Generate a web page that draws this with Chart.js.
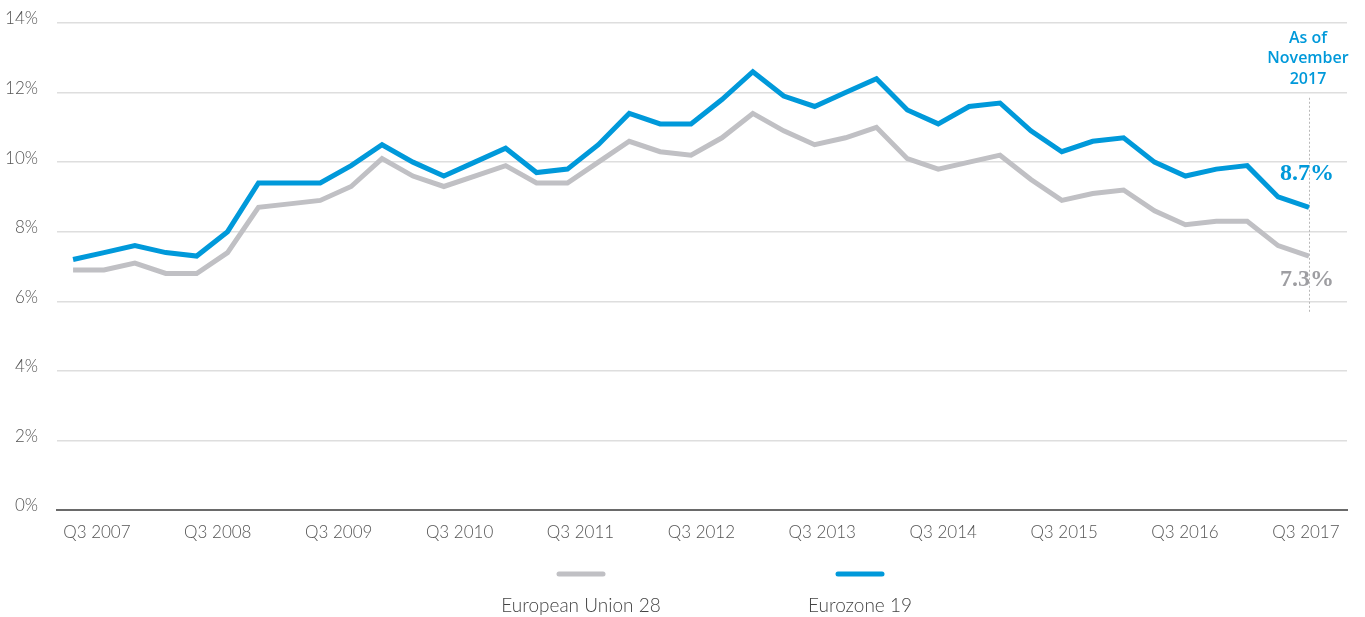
<!DOCTYPE html>
<html>
<head>
<meta charset="utf-8">
<title>Unemployment rate</title>
<script src="https://cdn.jsdelivr.net/npm/chart.js@4.4.0/dist/chart.umd.min.js"></script>
<style>
  html, body { margin: 0; padding: 0; background: #fff; }
  #wrap { position: relative; width: 1365px; height: 617px; }
</style>
</head>
<body>
<div id="wrap"><canvas id="myChart"></canvas></div>
<script>
// quarterly unemployment rate, %
var quarters = [
  'Q3 2007', 'Q4 2007', 'Q1 2008', 'Q2 2008', 'Q3 2008', 'Q4 2008', 'Q1 2009', 'Q2 2009',
  'Q3 2009', 'Q4 2009', 'Q1 2010', 'Q2 2010', 'Q3 2010', 'Q4 2010', 'Q1 2011', 'Q2 2011',
  'Q3 2011', 'Q4 2011', 'Q1 2012', 'Q2 2012', 'Q3 2012', 'Q4 2012', 'Q1 2013', 'Q2 2013',
  'Q3 2013', 'Q4 2013', 'Q1 2014', 'Q2 2014', 'Q3 2014', 'Q4 2014', 'Q1 2015', 'Q2 2015',
  'Q3 2015', 'Q4 2015', 'Q1 2016', 'Q2 2016', 'Q3 2016', 'Q4 2016', 'Q1 2017', 'Q2 2017',
  'Q3 2017'
];
var eu28 = [
  6.9, 6.9, 7.1, 6.8, 6.8, 7.4, 8.7, 8.8, 8.9, 9.3,
  10.1, 9.6, 9.3, 9.6, 9.9, 9.4, 9.4, 10.0, 10.6, 10.3,
  10.2, 10.7, 11.4, 10.9, 10.5, 10.7, 11.0, 10.1, 9.8, 10.0,
  10.2, 9.5, 8.9, 9.1, 9.2, 8.6, 8.2, 8.3, 8.3, 7.6,
  7.3
];
var ez19 = [
  7.2, 7.4, 7.6, 7.4, 7.3, 8.0, 9.4, 9.4, 9.4, 9.9,
  10.5, 10.0, 9.6, 10.0, 10.4, 9.7, 9.8, 10.5, 11.4, 11.1,
  11.1, 11.8, 12.6, 11.9, 11.6, 12.0, 12.4, 11.5, 11.1, 11.6,
  11.7, 10.9, 10.3, 10.6, 10.7, 10.0, 9.6, 9.8, 9.9, 9.0,
  8.7
];
var yearTicks = ['Q3 2007', 'Q3 2008', 'Q3 2009', 'Q3 2010', 'Q3 2011', 'Q3 2012',
                 'Q3 2013', 'Q3 2014', 'Q3 2015', 'Q3 2016', 'Q3 2017'];
var seriesNames = ['European Union 28', 'Eurozone 19'];
var seriesColors = ['#c0c0c4', '#0099da'];
var noteLines = ['As of', 'November', '2017'];

Chart.defaults.font.family = 'Lato, "Open Sans", sans-serif';
Chart.defaults.font.weight = 300;
Chart.defaults.color = '#555';

function points(arr) {
  return arr.map(function (v, i) { return { x: i, y: v }; });
}

// dotted marker behind the last quarter
var marker = {
  id: 'marker',
  beforeDatasetsDraw: function (chart) {
    var ctx = chart.ctx, x = chart.scales.x, y = chart.scales.y;
    var px = Math.round(x.getPixelForValue(quarters.length - 1)) + 0.5;
    ctx.save();
    ctx.strokeStyle = '#b8b8b8';
    ctx.lineWidth = 1;
    ctx.setLineDash([2, 2]);
    ctx.beginPath();
    ctx.moveTo(px, y.getPixelForValue(11.85));
    ctx.lineTo(px, y.getPixelForValue(5.65));
    ctx.stroke();
    ctx.restore();
  }
};

// end values and the date note
var endLabels = {
  id: 'endLabels',
  afterDatasetsDraw: function (chart) {
    var ctx = chart.ctx, x = chart.scales.x, y = chart.scales.y;
    var last = quarters.length - 1;
    var px = x.getPixelForValue(last) - 2;
    ctx.save();
    ctx.textAlign = 'center';
    ctx.textBaseline = 'middle';
    ctx.font = 'bold 24px "Liberation Serif", serif';
    ctx.fillStyle = seriesColors[1];
    ctx.fillText(ez19[last].toFixed(1) + '%', px, y.getPixelForValue(ez19[last]) - 34);
    ctx.fillStyle = '#9e9ea2';
    ctx.fillText(eu28[last].toFixed(1) + '%', px, y.getPixelForValue(eu28[last]) + 24);

    ctx.font = '600 16px "Open Sans", sans-serif';
    ctx.fillStyle = seriesColors[1];
    noteLines.forEach(function (t, i) {
      ctx.fillText(t, px + 1, 38 + i * 20.5);
    });
    ctx.restore();
  }
};

// legend: line sample above its name
var legendBelow = {
  id: 'legendBelow',
  afterDraw: function (chart) {
    var ctx = chart.ctx;
    var centers = [581, 860];
    ctx.save();
    chart.data.datasets.forEach(function (ds, i) {
      ctx.strokeStyle = ds.borderColor;
      ctx.lineWidth = 5;
      ctx.lineCap = 'round';
      ctx.beginPath();
      ctx.moveTo(centers[i] - 22, 574);
      ctx.lineTo(centers[i] + 22, 574);
      ctx.stroke();
      ctx.fillStyle = '#444';
      ctx.font = '300 19px Lato, sans-serif';
      ctx.textAlign = 'center';
      ctx.textBaseline = 'middle';
      ctx.fillText(ds.label, centers[i], 606);
    });
    ctx.restore();
  }
};

var ctx = document.getElementById('myChart').getContext('2d');
var myChart = new Chart(ctx, {
  type: 'line',
  data: {
    datasets: [
      {
        label: seriesNames[0],
        data: points(eu28),
        borderColor: seriesColors[0],
        backgroundColor: seriesColors[0],
        borderWidth: 5,
        pointRadius: 0,
        tension: 0
      },
      {
        label: seriesNames[1],
        data: points(ez19),
        borderColor: seriesColors[1],
        backgroundColor: seriesColors[1],
        borderWidth: 5,
        pointRadius: 0,
        tension: 0
      }
    ]
  },
  options: {
    responsive: true,
    maintainAspectRatio: false,
    animation: false,
    layout: { padding: { top: 23, right: 18, bottom: 62, left: 0 } },
    plugins: {
      legend: { display: false },
      tooltip: {
        callbacks: {
          title: function (items) { return quarters[items[0].parsed.x]; }
        }
      }
    },
    scales: {
      x: {
        type: 'linear',
        min: -0.52,
        max: 41.23,
        display: false
      },
      period: {
        type: 'linear',
        position: 'bottom',
        min: -0.33,
        max: 10.34,
        afterBuildTicks: function (axis) {
          axis.ticks = yearTicks.map(function (t, i) { return { value: i }; });
        },
        afterFit: function (axis) { axis.height = 45; },
        grid: { display: false, drawTicks: false },
        border: { display: true, color: '#6a6a6a', width: 2 },
        ticks: {
          padding: 12,
          maxRotation: 0,
          autoSkip: false,
          font: { size: 17 },
          color: '#555',
          callback: function (v, i) { return yearTicks[i]; }
        }
      },
      y: {
        min: 0,
        max: 14,
        afterFit: function (axis) {
          axis.width = 57;
          axis.paddingTop = 0;
          axis.paddingBottom = 0;
        },
        grid: { color: '#dedede', lineWidth: 1.5, drawTicks: false },
        border: { display: false },
        ticks: {
          stepSize: 2,
          padding: 19,
          labelOffset: -4,
          font: { size: 17 },
          color: '#555',
          callback: function (v) { return v + '%'; }
        }
      }
    }
  },
  plugins: [marker, endLabels, legendBelow]
});
</script>
</body>
</html>
